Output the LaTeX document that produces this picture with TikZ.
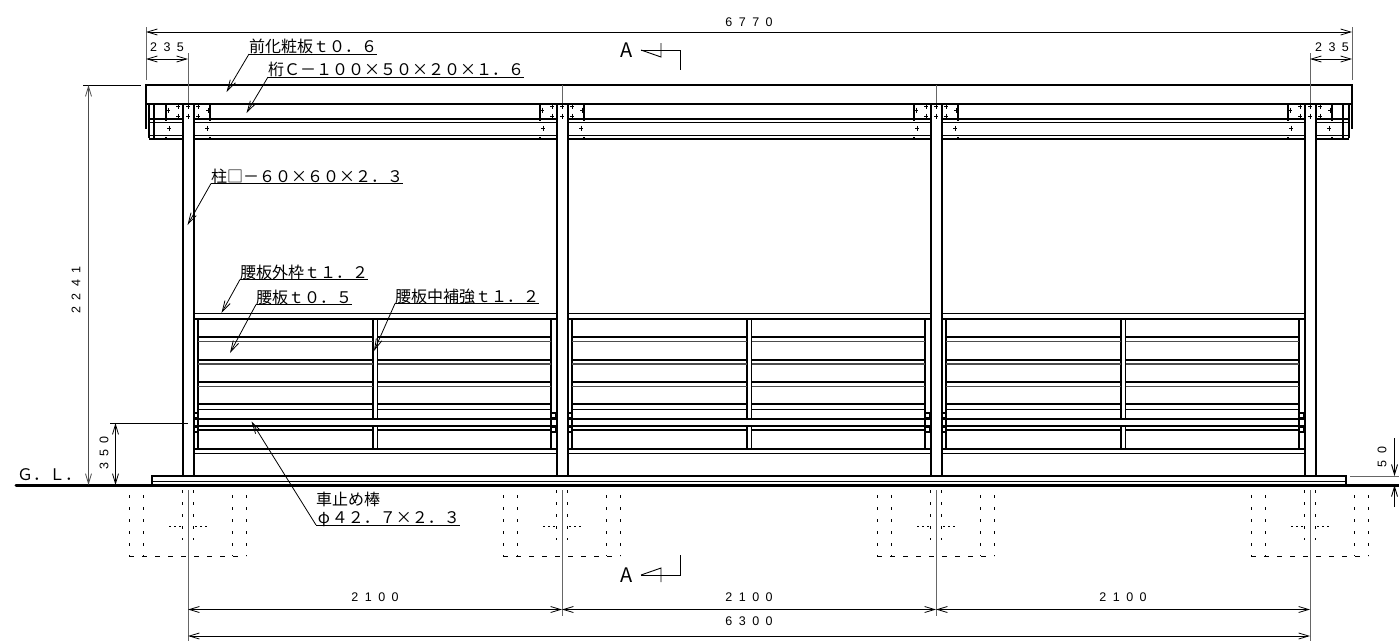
\documentclass[tikz,border=0pt]{standalone}
\usepackage{fontspec}
\setmainfont{Noto Sans CJK JP}
\newfontfamily\dimfont[LetterSpace=52]{Liberation Sans}
\usetikzlibrary{arrows.meta}
\tikzset{
  thk/.style={line width=2pt},
  mid/.style={line width=1.3pt},
  thn/.style={line width=.9pt},
  dimline/.style={line width=.8pt,{Straight Barb[length=10pt,width=6pt]}-{Straight Barb[length=10pt,width=6pt]}},
  extline/.style={line width=.9pt,black!60},
  leader/.style={line width=.8pt,-{Straight Barb[length=11pt,width=6pt]}},
  fdn/.style={line width=1pt,dash pattern=on 3pt off 9pt},
  callout/.style={anchor=south west,inner sep=0pt,outer sep=0pt,font=\fontsize{16}{16}\selectfont,text height=11pt,text depth=1.5pt},
  dimtext/.style={inner sep=0pt,font=\fontsize{12.5}{12.5}\dimfont},
  sectext/.style={inner sep=0pt,font=\fontsize{20}{20}\selectfont},
  bolt/.style={line width=.9pt}
}
\def \boltmark(#1,#2){ (#1-2,#2) -- (#1+2,#2) (#1,#2-2.5) -- (#1,#2+2.5) }
\begin{document}
\begin{tikzpicture}[x=1pt,y=-1pt]
  \useasboundingbox (0,0) rectangle (1399,641);

  % roof and beam
  \draw[thk] (146,129) -- (146,85) -- (1352,85) -- (1352,129);
  \draw[thk] (146,103.5) -- (1352,103.5);
  \foreach \xa/\xb in {149/182,193/556,567/930,941/1304,1315/1349} {
    \draw[thk] (\xa,119) -- (\xb,119);
    \draw[thn] (\xa,122.5) -- (\xb,122.5);
    \draw[thn] (\xa,135.5) -- (\xb,135.5);
    \draw[thk] (\xa,138.5) -- (\xb,138.5);
  }
  \draw[mid] (149,104) -- (149,138) (154,104) -- (154,138);
  \draw[mid] (1349,104) -- (1349,138) (1343,104) -- (1343,138);

  % columns with plates, bolts and footing
  \foreach \cx in {188,562,936,1310} {
    \begin{scope}[xshift=\cx pt]
      \draw[thk] (-5.5,104) -- (-5.5,476);
      \draw[thk] (5.5,104) -- (5.5,476);
      \draw[thk] (-22,104) -- (-22,121) (22,104) -- (22,121);
      \draw[thk] (-22,137) -- (-22,140) (22,137) -- (22,140);
      \draw[bolt] \boltmark(-20,110) \boltmark(20,110)
                  \boltmark(-10,106) \boltmark(0,106) \boltmark(10,106)
                  \boltmark(-10,116) \boltmark(0,116) \boltmark(10,116)
                  \boltmark(-19,128) \boltmark(19,128);
      \draw[fdn] (-59,495) -- (-59,556) (-45,495) -- (-45,556);
      \draw[fdn] (44,495) -- (44,556) (58,495) -- (58,556);
      \draw[fdn] (-5.5,490) -- (-5.5,540) (5.5,490) -- (5.5,540);
      \draw[line width=1pt,dash pattern=on 5pt off 8pt] (-59,556) -- (58,556);
      \draw[line width=1pt,dash pattern=on 2pt off 3pt] (-19,526) -- (-7,526) (7,526) -- (19,526);
    \end{scope}
  }

  % koshi panels
  \foreach \bx in {193,567,941} {
    \begin{scope}[xshift=\bx pt]
      \draw[mid] (0,313.5) -- (363,313.5);
      \draw[thk] (0,319) -- (363,319);
      \draw[mid] (5,319) -- (5,449) (358,319) -- (358,449);
      \draw[thk] (179.5,319) -- (179.5,418) (179.5,426) -- (179.5,449);
      \draw[mid] (184.5,319) -- (184.5,418) (184.5,426) -- (184.5,449);
      \foreach \xa/\xb in {5/179.5,184.5/358} {
        \foreach \ya/\yb in {336.5/341.5,359.5/364,382/386.5} {
          \draw[thk] (\xa,\ya) -- (\xb,\ya);
          \draw[mid,black!70] (\xa,\yb) -- (\xb,\yb);
        }
        \draw[thk] (\xa,404) -- (\xb,404);
        \draw[thn] (\xa,409) -- (\xb,409);
        \draw[mid] (\xa,430) -- (\xb,430);
      }
      \draw[thk] (0,418.5) -- (363,418.5);
      \draw[thk] (0,426) -- (363,426);
      \draw[thk] (0,449) -- (363,449);
      \draw[thn] (0,453) -- (363,453);
      \draw[mid] (0.5,413) rectangle (4.5,418) (0.5,427) rectangle (4.5,432);
      \draw[mid] (358.5,413) rectangle (362.5,418) (358.5,427) rectangle (362.5,432);
    \end{scope}
  }

  % base and ground line
  \draw[thk] (152,485) -- (152,476) -- (1346,476) -- (1346,485);
  \draw[thn] (152,481.5) -- (1346,481.5);
  \draw[line width=3pt,line cap=round] (16,485) -- (1399,485);
  \node[inner sep=0pt,font=\fontsize{16}{16}\selectfont,anchor=west] (gl) at (17,475) {Ｇ．Ｌ．};

  % dimensions
  \draw[extline] (146,27) -- (146,80) (1352,27) -- (1352,80);
  \draw[extline] (188,53) -- (188,103) (1310,53) -- (1310,103);
  \draw[extline] (562,85) -- (562,103) (936,85) -- (936,103);
  \draw[dimline] (146,32) -- (1352,32);
  \draw[dimline] (146,59) -- (188,59);
  \draw[dimline] (1310,59) -- (1352,59);
  \node[dimtext] (d6770) at (749,22) {6770};
  \node[dimtext] (d235a) at (167,47) {235};
  \node[dimtext] (d235b) at (1332,47) {235};

  \draw[thn] (83,85) -- (141,85);
  \draw[dimline,black!70] (88.5,85) -- (88.5,485);
  \node[dimtext,rotate=90] (d2241) at (76,290) {2241};
  \draw[thn] (110,423) -- (188,423);
  \draw[dimline] (115.5,423) -- (115.5,485);
  \node[dimtext,rotate=90] (d350) at (104,453) {350};
  \draw[extline] (1350,476) -- (1399,476);
  \draw[thn,-{Straight Barb[length=10pt,width=6pt]}] (1394.5,438) -- (1394.5,476);
  \draw[thn,-{Straight Barb[length=10pt,width=6pt]}] (1394.5,507) -- (1394.5,485);
  \node[dimtext,rotate=90] (d50) at (1382,457) {50};

  \draw[extline] (188,490) -- (188,641) (1310,490) -- (1310,641);
  \draw[extline] (562,490) -- (562,616) (936,490) -- (936,616);
  \foreach \xa/\xb/\xm in {188/562/375,562/936/749,936/1310/1123} {
    \draw[dimline] (\xa,609.5) -- (\xb,609.5);
    \node[dimtext] (d\xm) at (\xm,597) {2100};
  }
  \draw[dimline] (188,636) -- (1310,636);
  \node[dimtext] (d6300) at (749,621) {6300};

  % section marks
  \node[sectext] (secA) at (627,50) {A};
  \draw[thn] (641,50) -- (680,50) -- (680,70);
  \draw[thn] (641,50) -- (661,57) -- (661,43);
  \node[sectext] (secB) at (627,575) {A};
  \draw[thn] (641,575) -- (680,575) -- (680,555);
  \draw[thn] (641,575) -- (661,568) -- (661,582);

  % callouts
  \node[callout] (facia) at (249,54) {前化粧板ｔ０．６};
  \node[callout] (beam) at (268,77) {桁Ｃ－１００×５０×２０×１．６};
  \node[callout] (post) at (211,183.5) {柱□－６０×６０×２．３};
  \node[callout] (frame) at (240,279.5) {腰板外枠ｔ１．２};
  \node[callout] (panel) at (256,304.5) {腰板ｔ０．５};
  \node[callout] (rib) at (395,303.5) {腰板中補強ｔ１．２};
  \node[callout] (bar) at (316,525) {\makebox[16pt]{φ}４２．７×２．３};
  \node[callout] (barname) at (316,507) {車止め棒};
  \foreach \lbl/\tipx/\tipy in {facia/226.5/92,beam/246.5/113,post/187.5/225,frame/221.5/313,panel/230/353,rib/374/351,bar/251.5/421.5} {
    \coordinate (tip) at (\tipx,\tipy);
    \draw[thn] (\lbl.south west) -- (\lbl.south east);
    \draw[leader] (\lbl.south west) -- (tip);
  }
\end{tikzpicture}
\end{document}
